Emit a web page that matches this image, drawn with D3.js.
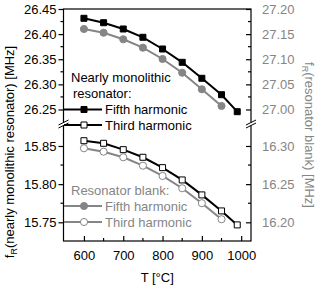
<!DOCTYPE html>
<html>
<head>
<meta charset="utf-8">
<script src="https://cdn.jsdelivr.net/npm/d3@7"></script>
<style>
  body { margin: 0; background: #fff; }
  text { font-family: "Liberation Sans", Arial, sans-serif; }
</style>
</head>
<body>
<div id="chart"></div>
<script>
// temperatures (°C)
const tempsNM = [600, 650, 700, 750, 800, 850, 900, 950, 990];
const tempsBlank = [600, 650, 700, 750, 800, 850, 900, 950];
// nearly monolithic resonator (left axis)
const nmFifth = [26.4315, 26.4227, 26.4102, 26.3937, 26.3704, 26.3439, 26.3121, 26.2794, 26.2456];
const nmThird = [15.8569, 15.8535, 15.8452, 15.8352, 15.8216, 15.8055, 15.7859, 15.7649, 15.7466];
// resonator blank (right axis)
const blankFifth = [27.1602, 27.1528, 27.1397, 27.1230, 27.1005, 27.0732, 27.0402, 27.0070];
const blankThird = [16.2970, 16.2925, 16.2852, 16.2742, 16.2607, 16.2446, 16.2250, 16.2040];

const xTicks = [600, 700, 800, 900, 1000];
const xMinor = [650, 750, 850, 950];
const leftTopTicks = [26.25, 26.30, 26.35, 26.40, 26.45];
const leftTopMinor = [26.275, 26.325, 26.375, 26.425];
const leftBotTicks = [15.75, 15.80, 15.85];
const leftBotMinor = [15.775, 15.825];
const rightTopTicks = [27.00, 27.05, 27.10, 27.15, 27.20];
const rightTopMinor = [27.025, 27.075, 27.125, 27.175];
const rightBotTicks = [16.20, 16.25, 16.30];
const rightBotMinor = [16.225, 16.275];

const W = 320, H = 286;
const gray = "#858585";
const L = 63.5, R = 251, T = 9, B = 241, BRK = 124;

const svg = d3.select("#chart").append("svg").attr("width", W).attr("height", H);

const x = d3.scaleLinear().domain([548, 1025]).range([L, R]);
const yLT = d3.scaleLinear().domain([26.2211, 26.45]).range([BRK, T]);
const yRT = d3.scaleLinear().domain([26.9711, 27.20]).range([BRK, T]);
const yLB = d3.scaleLinear().domain([15.7255, 15.8788]).range([B, BRK]);
const yRB = d3.scaleLinear().domain([16.1755, 16.3288]).range([B, BRK]);

const fmt = d3.format(".2f");

// frame
svg.append("rect").attr("x", L).attr("y", T).attr("width", R - L).attr("height", B - T)
  .attr("fill", "none").attr("stroke", "#000").attr("stroke-width", 1.2);

// left axes (ticks outward)
function leftAxis(scale, ticks, minor) {
  const g = svg.append("g").attr("transform", `translate(${L},0)`);
  g.call(d3.axisLeft(scale).tickValues(ticks).tickFormat(fmt).tickSize(5).tickPadding(2));
  g.select(".domain").remove();
  g.selectAll("text").attr("font-size", 13).attr("fill", "#000").style("font-family", "Liberation Sans, Arial, sans-serif");
  g.selectAll("line").attr("stroke-width", 1.2);
  g.selectAll(".minor").data(minor).enter().append("line")
    .attr("x1", -3).attr("x2", 0).attr("y1", d => scale(d)).attr("y2", d => scale(d))
    .attr("stroke", "#000").attr("stroke-width", 1.2);
}
leftAxis(yLT, leftTopTicks, leftTopMinor);
leftAxis(yLB, leftBotTicks, leftBotMinor);

// right axes (ticks inward, gray labels)
function rightAxis(scale, ticks, minor) {
  const g = svg.append("g").attr("transform", `translate(${R},0)`);
  g.call(d3.axisRight(scale).tickValues(ticks).tickFormat(fmt).tickSize(-5).tickPadding(11));
  g.select(".domain").remove();
  g.selectAll("text").attr("font-size", 13).attr("fill", gray).style("font-family", "Liberation Sans, Arial, sans-serif");
  g.selectAll("line").attr("stroke-width", 1.2);
  g.selectAll(".minor").data(minor).enter().append("line")
    .attr("x1", -3).attr("x2", 0).attr("y1", d => scale(d)).attr("y2", d => scale(d))
    .attr("stroke", "#000").attr("stroke-width", 1.2);
}
rightAxis(yRT, rightTopTicks, rightTopMinor);
rightAxis(yRB, rightBotTicks, rightBotMinor);

// bottom axis (ticks inward)
const gx = svg.append("g").attr("transform", `translate(0,${B})`);
gx.call(d3.axisBottom(x).tickValues(xTicks).tickFormat(d3.format("d")).tickSize(-5).tickPadding(10));
gx.select(".domain").remove();
gx.selectAll("text").attr("font-size", 13).attr("fill", "#000").style("font-family", "Liberation Sans, Arial, sans-serif");
gx.selectAll("line").attr("stroke-width", 1.2);
gx.selectAll(".minor").data(xMinor).enter().append("line")
  .attr("x1", d => x(d)).attr("x2", d => x(d)).attr("y1", 0).attr("y2", -3)
  .attr("stroke", "#000").attr("stroke-width", 1.2);

// axis breaks
[L, R].forEach(ax => {
  svg.append("rect").attr("x", ax - 2).attr("y", BRK - 1.5).attr("width", 4).attr("height", 3).attr("fill", "#fff");
  [-1.5, 1.5].forEach(o => {
    svg.append("line").attr("x1", ax - 5).attr("y1", BRK + o + 2.5).attr("x2", ax + 5).attr("y2", BRK + o - 2.5)
      .attr("stroke", "#000").attr("stroke-width", 1);
  });
});

// series
function series(temps, vals, scale, color, marker, fill) {
  const pts = temps.map((t, i) => [x(t), scale(vals[i])]);
  svg.append("path").datum(pts).attr("d", d3.line())
    .attr("fill", "none").attr("stroke", color).attr("stroke-width", 2);
  const sym = d3.symbol().type(marker === "sq" ? d3.symbolSquare : d3.symbolCircle).size(marker === "sq" ? 36 : 40);
  svg.selectAll(null).data(pts).enter().append("path")
    .attr("d", sym).attr("transform", d => `translate(${d[0]},${d[1]})`)
    .attr("fill", fill).attr("stroke", color).attr("stroke-width", 1);
}
series(tempsBlank, blankFifth, yRT, gray, "ci", gray);
series(tempsNM, nmFifth, yLT, "#000", "sq", "#000");
series(tempsBlank, blankThird, yRB, gray, "ci", "#fff");
series(tempsNM, nmThird, yLB, "#000", "sq", "#fff");

// legends
function legendItem(y, label, color, marker, fill) {
  svg.append("line").attr("x1", 64).attr("x2", 102).attr("y1", y).attr("y2", y)
    .attr("stroke", color).attr("stroke-width", 2);
  const sym = d3.symbol().type(marker === "sq" ? d3.symbolSquare : d3.symbolCircle).size(marker === "sq" ? 36 : 40);
  svg.append("path").attr("d", sym).attr("transform", `translate(84,${y})`)
    .attr("fill", fill).attr("stroke", color).attr("stroke-width", 1);
  svg.append("text").attr("x", 105).attr("y", y + 4.5).attr("font-size", 13).attr("fill", color).text(label);
}
svg.append("text").attr("x", 71).attr("y", 82).attr("font-size", 13).text("Nearly monolithic");
svg.append("text").attr("x", 73).attr("y", 98).attr("font-size", 13).text("resonator:");
legendItem(109.5, "Fifth harmonic", "#000", "sq", "#000");
legendItem(125, "Third harmonic", "#000", "sq", "#fff");
svg.append("text").attr("x", 71).attr("y", 194.5).attr("font-size", 13).attr("fill", gray).text("Resonator blank:");
legendItem(206, "Fifth harmonic", gray, "ci", gray);
legendItem(222, "Third harmonic", gray, "ci", "#fff");

// axis titles
svg.append("text").attr("x", (L + R) / 2).attr("y", 282).attr("text-anchor", "middle")
  .attr("font-size", 13).text("T [°C]");
const lt = svg.append("text").attr("transform", `translate(14,152) rotate(-90)`)
  .attr("text-anchor", "middle").attr("font-size", 13);
lt.append("tspan").text("f");
lt.append("tspan").attr("font-size", 9).attr("dy", 3).text("R");
lt.append("tspan").attr("dy", -3).text("(nearly monolithic resonator) [MHz]");
const rt = svg.append("text").attr("transform", `translate(305,135) rotate(90)`)
  .attr("text-anchor", "middle").attr("font-size", 13).attr("fill", gray);
rt.append("tspan").text("f");
rt.append("tspan").attr("font-size", 9).attr("dy", 3).text("R");
rt.append("tspan").attr("dy", -3).text("(resonator blank) [MHz]");
</script>
</body>
</html>
